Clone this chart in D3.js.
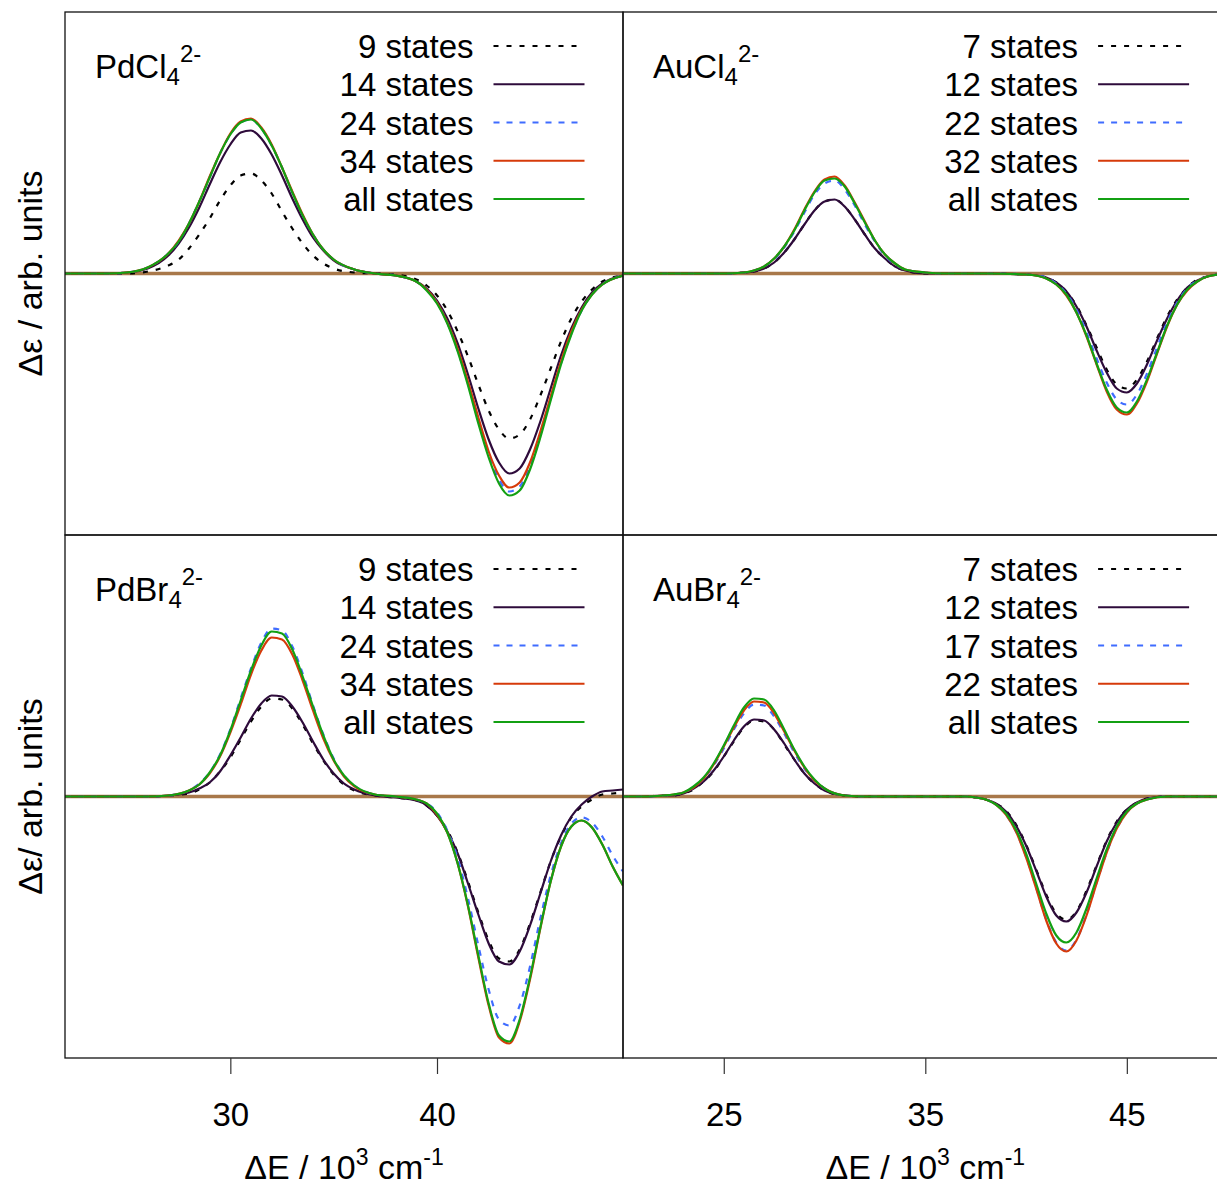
<!DOCTYPE html>
<html lang="en">
<head>
<meta charset="UTF-8">
<title>Simulated CD spectra vs number of states</title>
<script src="https://d3js.org/d3.v7.min.js"></script>
<style>
  body { margin: 0; background: #fff; }
  svg { display: block; font-family: "Liberation Sans", Arial, sans-serif; }
</style>
</head>
<body>
<div id="chart"></div>
<script>
// ---- data (x in 10^3 cm^-1, y in arb. units) ----
const pdDomain = [22, 49];
const auDomain = [20, 50];
const pdTicks = [30, 40];
const auTicks = [25, 35, 45];
const yDomain = [-2.615, 2.615];

// PdCl4 2-
const pdcl4X = [22, 24, 25, 26, 27, 27.5, 28, 28.5, 29, 29.5, 30, 30.5, 31, 31.5, 32, 32.5, 33, 33.5, 34, 34.5, 35, 36, 37, 38, 39, 39.5, 40, 40.5, 41, 41.5, 42, 42.5, 43, 43.5, 44, 44.5, 45, 45.5, 46, 46.5, 47, 47.5, 48, 49];
const pdcl4S9 = [0, 0, 0, 0.02, 0.08, 0.14, 0.25, 0.39, 0.55, 0.73, 0.88, 0.98, 1.00, 0.93, 0.80, 0.62, 0.45, 0.30, 0.18, 0.10, 0.05, 0.01, 0, -0.01, -0.06, -0.12, -0.22, -0.37, -0.58, -0.83, -1.11, -1.37, -1.56, -1.65, -1.61, -1.46, -1.22, -0.95, -0.68, -0.45, -0.28, -0.16, -0.08, -0.02];
const pdcl4S14 = [0, 0, 0.01, 0.05, 0.18, 0.30, 0.46, 0.66, 0.89, 1.11, 1.29, 1.41, 1.43, 1.35, 1.19, 0.98, 0.75, 0.54, 0.36, 0.23, 0.13, 0.04, 0, -0.02, -0.08, -0.15, -0.27, -0.45, -0.70, -1.01, -1.35, -1.66, -1.89, -2.00, -1.95, -1.76, -1.48, -1.15, -0.82, -0.55, -0.34, -0.19, -0.10, -0.02];
const pdcl4S24 = [0, 0, 0.01, 0.06, 0.20, 0.32, 0.50, 0.72, 0.96, 1.20, 1.39, 1.51, 1.54, 1.45, 1.28, 1.06, 0.81, 0.58, 0.39, 0.24, 0.14, 0.04, 0, -0.02, -0.08, -0.16, -0.29, -0.49, -0.77, -1.10, -1.47, -1.81, -2.06, -2.18, -2.13, -1.92, -1.61, -1.25, -0.90, -0.60, -0.37, -0.21, -0.11, -0.02];
const pdcl4S34 = [0, 0, 0.01, 0.06, 0.20, 0.33, 0.50, 0.72, 0.97, 1.20, 1.40, 1.52, 1.55, 1.46, 1.29, 1.06, 0.82, 0.59, 0.39, 0.24, 0.14, 0.04, 0, -0.02, -0.08, -0.16, -0.29, -0.49, -0.75, -1.08, -1.44, -1.78, -2.02, -2.14, -2.09, -1.89, -1.58, -1.23, -0.88, -0.58, -0.36, -0.21, -0.11, -0.02];
const pdcl4All = [0, 0, 0.01, 0.06, 0.20, 0.32, 0.50, 0.72, 0.96, 1.20, 1.39, 1.51, 1.54, 1.45, 1.28, 1.06, 0.81, 0.58, 0.39, 0.24, 0.14, 0.04, 0, -0.02, -0.08, -0.17, -0.30, -0.50, -0.78, -1.12, -1.50, -1.84, -2.10, -2.22, -2.17, -1.96, -1.64, -1.27, -0.91, -0.61, -0.37, -0.21, -0.11, -0.02];

// AuCl4 2-
const aucl4X = [20, 24, 25, 26, 26.5, 27, 27.5, 28, 28.5, 29, 29.5, 30, 30.5, 31, 31.5, 32, 32.5, 33, 33.5, 34, 35, 36, 38, 40, 40.5, 41, 41.5, 42, 42.5, 43, 43.5, 44, 44.5, 45, 45.5, 46, 46.5, 47, 47.5, 48, 48.5, 49, 50];
const aucl4S7 = [0, 0, 0, 0.01, 0.02, 0.05, 0.11, 0.21, 0.34, 0.49, 0.63, 0.72, 0.74, 0.67, 0.54, 0.39, 0.25, 0.15, 0.07, 0.03, 0, 0, 0, -0.01, -0.02, -0.04, -0.09, -0.18, -0.32, -0.52, -0.74, -0.96, -1.11, -1.15, -1.06, -0.88, -0.65, -0.43, -0.26, -0.14, -0.06, -0.03, 0];
const aucl4S12 = [0, 0, 0, 0.01, 0.02, 0.05, 0.11, 0.21, 0.34, 0.49, 0.63, 0.72, 0.74, 0.67, 0.54, 0.39, 0.25, 0.15, 0.07, 0.03, 0, 0, 0, -0.01, -0.02, -0.04, -0.09, -0.18, -0.33, -0.53, -0.77, -0.99, -1.15, -1.19, -1.10, -0.91, -0.67, -0.45, -0.27, -0.14, -0.07, -0.03, 0];
const aucl4S22 = [0, 0, 0, 0.01, 0.03, 0.07, 0.14, 0.26, 0.42, 0.61, 0.79, 0.90, 0.93, 0.84, 0.68, 0.49, 0.32, 0.18, 0.09, 0.04, 0.01, 0, 0, -0.01, -0.02, -0.04, -0.10, -0.20, -0.36, -0.59, -0.85, -1.09, -1.26, -1.31, -1.21, -1.00, -0.74, -0.49, -0.29, -0.15, -0.07, -0.03, 0];
const aucl4S32 = [0, 0, 0, 0.01, 0.03, 0.07, 0.15, 0.27, 0.44, 0.64, 0.82, 0.94, 0.97, 0.88, 0.71, 0.52, 0.33, 0.19, 0.10, 0.04, 0.01, 0, 0, -0.01, -0.02, -0.05, -0.11, -0.22, -0.39, -0.63, -0.91, -1.18, -1.36, -1.41, -1.30, -1.08, -0.80, -0.53, -0.31, -0.17, -0.08, -0.03, 0];
const aucl4All = [0, 0, 0, 0.01, 0.03, 0.07, 0.15, 0.27, 0.43, 0.63, 0.81, 0.93, 0.95, 0.87, 0.70, 0.51, 0.33, 0.19, 0.10, 0.04, 0.01, 0, 0, -0.01, -0.02, -0.05, -0.11, -0.21, -0.39, -0.62, -0.90, -1.16, -1.34, -1.39, -1.28, -1.06, -0.79, -0.52, -0.31, -0.16, -0.08, -0.03, 0];

// PdBr4 2-
const pdbr4X = [22, 26, 27, 28, 28.5, 29, 29.5, 30, 30.5, 31, 31.5, 32, 32.5, 33, 33.5, 34, 34.5, 35, 35.5, 36, 37, 38, 39, 39.5, 40, 40.5, 41, 41.5, 42, 42.5, 43, 43.5, 44, 44.5, 45, 45.5, 46, 46.5, 47, 47.5, 48, 48.5, 49];
const pdbr4S9 = [0, 0, 0.01, 0.03, 0.07, 0.14, 0.25, 0.39, 0.57, 0.75, 0.90, 0.98, 0.97, 0.88, 0.72, 0.53, 0.36, 0.22, 0.12, 0.06, 0.01, -0.01, -0.04, -0.09, -0.19, -0.34, -0.56, -0.85, -1.16, -1.44, -1.62, -1.65, -1.53, -1.27, -0.96, -0.65, -0.40, -0.21, -0.10, -0.03, 0.02, 0.03, 0.04];
const pdbr4S14 = [0, 0, 0.01, 0.04, 0.08, 0.14, 0.25, 0.41, 0.59, 0.78, 0.93, 1.01, 1.00, 0.90, 0.74, 0.55, 0.37, 0.23, 0.13, 0.07, 0.01, -0.01, -0.04, -0.09, -0.19, -0.35, -0.57, -0.87, -1.18, -1.47, -1.65, -1.68, -1.55, -1.29, -0.97, -0.65, -0.39, -0.20, -0.08, 0.00, 0.05, 0.06, 0.07];
const pdbr4S24 = [0, 0, 0.01, 0.06, 0.13, 0.24, 0.42, 0.67, 0.98, 1.28, 1.54, 1.68, 1.66, 1.50, 1.23, 0.91, 0.62, 0.38, 0.21, 0.11, 0.02, 0, -0.03, -0.07, -0.16, -0.34, -0.62, -1.02, -1.49, -1.93, -2.23, -2.29, -2.09, -1.70, -1.22, -0.79, -0.47, -0.27, -0.21, -0.26, -0.40, -0.59, -0.75];
const pdbr4S34 = [0, 0, 0.01, 0.06, 0.12, 0.23, 0.40, 0.64, 0.92, 1.22, 1.46, 1.59, 1.57, 1.42, 1.16, 0.86, 0.58, 0.36, 0.20, 0.10, 0.02, 0, -0.03, -0.07, -0.18, -0.36, -0.67, -1.10, -1.61, -2.09, -2.41, -2.47, -2.25, -1.83, -1.32, -0.85, -0.50, -0.30, -0.24, -0.31, -0.48, -0.70, -0.89];
const pdbr4All = [0, 0, 0.01, 0.06, 0.12, 0.24, 0.41, 0.66, 0.96, 1.26, 1.51, 1.65, 1.63, 1.47, 1.20, 0.90, 0.61, 0.37, 0.21, 0.11, 0.02, 0, -0.03, -0.07, -0.17, -0.36, -0.67, -1.09, -1.59, -2.07, -2.39, -2.45, -2.23, -1.81, -1.31, -0.85, -0.50, -0.30, -0.24, -0.31, -0.48, -0.70, -0.89];

// AuBr4 2-
const aubr4X = [20, 21, 22, 22.5, 23, 23.5, 24, 24.5, 25, 25.5, 26, 26.5, 27, 27.5, 28, 28.5, 29, 29.5, 30, 31, 32, 34, 36, 37, 37.5, 38, 38.5, 39, 39.5, 40, 40.5, 41, 41.5, 42, 42.5, 43, 43.5, 44, 44.5, 45, 45.5, 46, 47, 48, 50];
const aubr4S7 = [0, 0, 0.01, 0.01, 0.03, 0.07, 0.15, 0.25, 0.40, 0.55, 0.69, 0.76, 0.75, 0.67, 0.52, 0.37, 0.23, 0.13, 0.06, 0.01, 0, 0, 0, 0, -0.01, -0.03, -0.07, -0.14, -0.28, -0.48, -0.73, -0.98, -1.17, -1.23, -1.15, -0.94, -0.69, -0.44, -0.25, -0.13, -0.06, -0.02, 0, 0, 0];
const aubr4S12 = [0, 0, 0.01, 0.01, 0.03, 0.08, 0.15, 0.26, 0.40, 0.56, 0.70, 0.77, 0.76, 0.67, 0.53, 0.37, 0.23, 0.13, 0.06, 0.01, 0, 0, 0, 0, -0.01, -0.03, -0.07, -0.15, -0.29, -0.49, -0.74, -1.00, -1.19, -1.25, -1.16, -0.96, -0.70, -0.45, -0.26, -0.13, -0.06, -0.02, 0, 0, 0];
const aubr4S17 = [0, 0, 0.01, 0.02, 0.04, 0.09, 0.18, 0.31, 0.48, 0.67, 0.83, 0.92, 0.91, 0.80, 0.63, 0.44, 0.28, 0.16, 0.08, 0.01, 0, 0, 0, 0, -0.01, -0.03, -0.08, -0.18, -0.35, -0.60, -0.91, -1.23, -1.46, -1.54, -1.43, -1.18, -0.86, -0.56, -0.32, -0.16, -0.07, -0.03, 0, 0, 0];
const aubr4S22 = [0, 0, 0.01, 0.02, 0.04, 0.09, 0.18, 0.32, 0.50, 0.69, 0.86, 0.95, 0.94, 0.83, 0.65, 0.46, 0.29, 0.16, 0.08, 0.01, 0, 0, 0, 0, -0.01, -0.03, -0.08, -0.18, -0.35, -0.61, -0.92, -1.24, -1.47, -1.55, -1.44, -1.19, -0.87, -0.56, -0.32, -0.16, -0.07, -0.03, 0, 0, 0];
const aubr4All = [0, 0, 0.01, 0.02, 0.04, 0.10, 0.19, 0.33, 0.51, 0.71, 0.89, 0.98, 0.97, 0.86, 0.67, 0.47, 0.30, 0.17, 0.08, 0.01, 0, 0, 0, 0, -0.01, -0.03, -0.08, -0.17, -0.33, -0.57, -0.87, -1.17, -1.39, -1.46, -1.36, -1.12, -0.82, -0.53, -0.30, -0.15, -0.07, -0.03, 0, 0, 0];

const pdLabels = ["9 states", "14 states", "24 states", "34 states", "all states"];
const aucl4Labels = ["7 states", "12 states", "22 states", "32 states", "all states"];
const aubr4Labels = ["7 states", "12 states", "17 states", "22 states", "all states"];
const yTitles = ["\u0394\u03b5 / arb. units", "\u0394\u03b5/ arb. units"];

// ---- layout ----
const W = 1217, H = 1188;
const cols = [[65, 623], [623, 1227.6]];
const rows = [[12, 535], [535, 1058]];

const styles = [
  {color: "#000000", dash: "5,8"},
  {color: "#2e0b3b", dash: null},
  {color: "#3f6cff", dash: "6,7"},
  {color: "#d63a0a", dash: null},
  {color: "#13a013", dash: null}
];

const panels = [
  {formula: ["PdCl", "4", "2-"], col: 0, row: 0, domain: pdDomain, xs: pdcl4X,
   series: [pdcl4S9, pdcl4S14, pdcl4S24, pdcl4S34, pdcl4All], labels: pdLabels},
  {formula: ["AuCl", "4", "2-"], col: 1, row: 0, domain: auDomain, xs: aucl4X,
   series: [aucl4S7, aucl4S12, aucl4S22, aucl4S32, aucl4All], labels: aucl4Labels},
  {formula: ["PdBr", "4", "2-"], col: 0, row: 1, domain: pdDomain, xs: pdbr4X, ticks: pdTicks,
   series: [pdbr4S9, pdbr4S14, pdbr4S24, pdbr4S34, pdbr4All], labels: pdLabels},
  {formula: ["AuBr", "4", "2-"], col: 1, row: 1, domain: auDomain, xs: aubr4X, ticks: auTicks,
   series: [aubr4S7, aubr4S12, aubr4S17, aubr4S22, aubr4All], labels: aubr4Labels}
];

const svg = d3.select("#chart").append("svg")
  .attr("width", W)
  .attr("height", H);

panels.forEach((p, i) => {
  const [x0, x1] = cols[p.col];
  const [y0, y1] = rows[p.row];

  const x = d3.scaleLinear().domain(p.domain).range([x0, x1]);
  const y = d3.scaleLinear().domain(yDomain).range([y1, y0]);

  svg.append("clipPath").attr("id", "clip" + i)
    .append("rect")
    .attr("x", x0).attr("y", y0)
    .attr("width", x1 - x0).attr("height", y1 - y0);

  const g = svg.append("g").attr("clip-path", `url(#clip${i})`);

  // zero line
  g.append("line")
    .attr("x1", x0).attr("x2", x1)
    .attr("y1", y(0)).attr("y2", y(0))
    .attr("stroke", "#a8784a")
    .attr("stroke-width", 3.5);

  const line = d3.line()
    .x((d, j) => x(p.xs[j]))
    .y(d => y(d))
    .curve(d3.curveMonotoneX);

  p.series.forEach((s, k) => {
    g.append("path")
      .datum(s)
      .attr("d", line)
      .attr("fill", "none")
      .attr("stroke", styles[k].color)
      .attr("stroke-width", 2.2)
      .attr("stroke-dasharray", styles[k].dash);
  });

  // box
  svg.append("rect")
    .attr("x", x0).attr("y", y0)
    .attr("width", x1 - x0).attr("height", y1 - y0)
    .attr("fill", "none")
    .attr("stroke", "#111")
    .attr("stroke-width", 1.3);

  // legend
  p.labels.forEach((lab, k) => {
    const ly = y0 + 34 + k * 38.25;
    svg.append("line")
      .attr("x1", x1 - 129.5).attr("x2", x1 - 38.5)
      .attr("y1", ly).attr("y2", ly)
      .attr("stroke", styles[k].color)
      .attr("stroke-width", 2.2)
      .attr("stroke-dasharray", styles[k].dash);
    svg.append("text")
      .attr("x", x1 - 149.5)
      .attr("y", ly + 12)
      .attr("text-anchor", "end")
      .attr("font-size", 33)
      .text(lab);
  });

  // compound label
  const t = svg.append("text")
    .attr("x", x0 + 30)
    .attr("y", y0 + 65.5)
    .attr("font-size", 33);
  t.append("tspan").text(p.formula[0]);
  t.append("tspan").attr("font-size", 24).attr("dy", 7).text(p.formula[1]);
  t.append("tspan").attr("font-size", 24).attr("dy", -23).text(p.formula[2]);

  // y title (left column only)
  if (p.col === 0) {
    svg.append("text")
      .attr("transform", `translate(42, ${(y0 + y1) / 2}) rotate(-90)`)
      .attr("text-anchor", "middle")
      .attr("font-size", 34)
      .text(yTitles[p.row]);
  }

  // x axis (bottom row only)
  if (p.ticks) {
    const ax = svg.append("g")
      .attr("transform", `translate(0, ${y1})`)
      .call(d3.axisBottom(x).tickValues(p.ticks).tickSize(16).tickFormat(d3.format("d")));
    ax.select(".domain").remove();
    ax.attr("font-size", 33).attr("font-family", null);
    ax.selectAll(".tick line").attr("stroke", "#333").attr("stroke-width", 1.2);
    ax.selectAll(".tick text").attr("y", 68).attr("dy", null).attr("fill", "#000");

    const xt = svg.append("text")
      .attr("x", (x0 + x1) / 2)
      .attr("y", 1179)
      .attr("text-anchor", "middle")
      .attr("font-size", 34);
    xt.append("tspan").text("\u0394E / 10");
    xt.append("tspan").attr("font-size", 23).attr("dy", -14).text("3");
    xt.append("tspan").attr("dy", 14).text(" cm");
    xt.append("tspan").attr("font-size", 23).attr("dy", -14).text("-1");
  }
});
</script>
</body>
</html>
